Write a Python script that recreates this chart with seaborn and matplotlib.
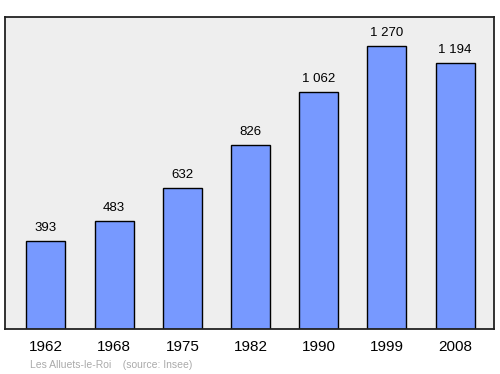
import seaborn as sns
import matplotlib.pyplot as plt
import pandas as pd

years = ["1962", "1968", "1975", "1982", "1990", "1999", "2008"]
population = [393, 483, 632, 826, 1062, 1270, 1194]
value_labels = ["393", "483", "632", "826", "1 062", "1 270", "1 194"]

df = pd.DataFrame({"year": years, "pop": population})

sns.set_style("white")
plt.rcParams['font.family'] = ['Liberation Sans', 'DejaVu Sans']

fig = plt.figure(figsize=(5, 3.74), dpi=100)
ax = fig.add_axes([0.01, 0.1203, 0.978, 0.8342])
ax.set_facecolor('#eeeeee')

sns.barplot(data=df, x="year", y="pop", ax=ax, color='#7799ff', saturation=1,
            width=0.57, edgecolor='black', linewidth=1)

# value labels above bars
for patch, lbl in zip(ax.patches, value_labels):
    x = patch.get_x() + patch.get_width() / 2
    y = patch.get_height()
    ax.annotate(lbl, (x, y), xytext=(0, 5), textcoords='offset points',
                ha='center', va='bottom', fontsize=9.5, color='black')

ax.set_xlim(-0.6, 6.57)
ax.set_ylim(0, 1400)
ax.set_yticks([])
ax.set_xlabel('')
ax.set_ylabel('')
ax.tick_params(axis='x', length=0, labelsize=11, labelcolor='black', pad=8)
for s in ax.spines.values():
    s.set_color('#222222')
    s.set_linewidth(1.3)

fig.text(0.06, 0.016, "Les Alluets-le-Roi    (source: Insee)", fontsize=7.5,
         color='#aaaaaa')

fig.savefig("out.png", dpi=100)
